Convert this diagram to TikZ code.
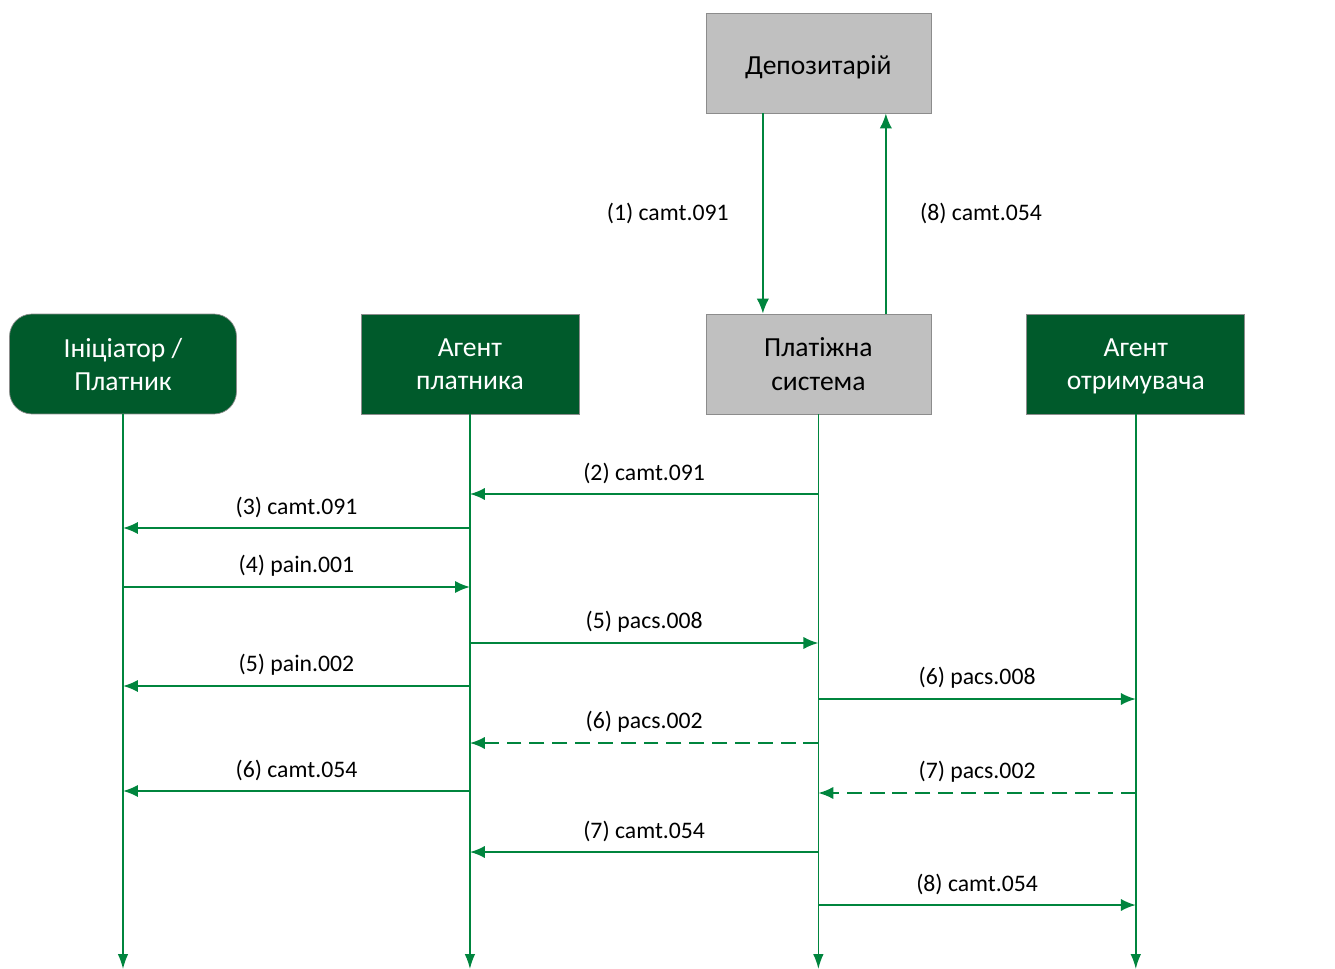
\documentclass[tikz,border=0pt]{standalone}
\usepackage{fontspec}
\setmainfont{Carlito}
\usetikzlibrary{arrows.meta,positioning}
\definecolor{linegreen}{RGB}{0,133,62}
\definecolor{boxgreen}{RGB}{0,90,43}
\definecolor{boxgrey}{RGB}{192,192,192}
\definecolor{bordergrey}{RGB}{140,140,140}
\tikzstyle{party} = [draw=bordergrey, fill=boxgreen, text=white, rectangle,
    minimum height=2cm, minimum width=4.36cm, align=center,
    font=\fontsize{15.7}{18.8}\selectfont,
    execute at begin node={\strut}, text depth=0pt]
\tikzstyle{system} = [party, fill=boxgrey, text=black, minimum width=4.5cm]
\tikzstyle{msg} = [draw=linegreen, line width=1.1pt, -{Latex[length=8.5pt,width=7pt]}]
\tikzstyle{reply} = [msg, dash pattern=on 8.5pt off 4.5pt]
\tikzstyle{life} = [draw=linegreen, line width=0.85pt, -{Latex[length=8.5pt,width=6pt]}]
\tikzstyle{lbl} = [font=\fontsize{13.5}{16}\selectfont, above=2pt]

\begin{document}
\begin{tikzpicture}[x=0.02cm, y=-0.02cm]
    \useasboundingbox (0,0) rectangle (1335,969);
    \node [party, rounded corners=0.45cm, minimum width=4.54cm] (initiator) at (123,364) {Ініціатор /\\ Платник};
    \node [party, right of=initiator, node distance=6.94cm] (payeragent) {Агент\\ платника};
    \node [system, right of=payeragent, node distance=6.97cm] (paysystem) {Платіжна\\ система};
    \node [party, right of=paysystem, node distance=6.35cm] (payeeagent) {Агент\\ отримувача};
    \node [system, above of=paysystem, node distance=6.02cm] (depo) {Депозитарій};
    \coordinate (bottom) at (0,969);
    % lifelines
    \foreach \who in {initiator, payeragent, paysystem, payeeagent}
        \draw [life] (\who.south) -- (\who.south |- bottom);
    % depositary exchange
    \draw [msg] ([xshift=-1.11cm]depo.south) -- node [left=0.55cm, font=\fontsize{13.5}{16}\selectfont] {(1) camt.091} ([xshift=-1.11cm]paysystem.north);
    \draw [msg] ([xshift=1.35cm]paysystem.north) -- node [right=0.55cm, font=\fontsize{13.5}{16}\selectfont] {(8) camt.054} ([xshift=1.35cm]depo.south);
    % messages
    \draw [msg] (paysystem.south |- 0,494) -- node [lbl] {(2) camt.091} (payeragent.south |- 0,494);
    \draw [msg] (payeragent.south |- 0,528) -- node [lbl] {(3) camt.091} (initiator.south |- 0,528);
    \draw [msg] (initiator.south |- 0,587) -- node [lbl] {(4) pain.001} (payeragent.south |- 0,587);
    \draw [msg] (payeragent.south |- 0,643) -- node [lbl] {(5) pacs.008} (paysystem.south |- 0,643);
    \draw [msg] (payeragent.south |- 0,686) -- node [lbl] {(5) pain.002} (initiator.south |- 0,686);
    \draw [msg] (paysystem.south |- 0,699) -- node [lbl] {(6) pacs.008} (payeeagent.south |- 0,699);
    \draw [reply] (paysystem.south |- 0,743) -- node [lbl] {(6) pacs.002} (payeragent.south |- 0,743);
    \draw [msg] (payeragent.south |- 0,791) -- node [lbl] {(6) camt.054} (initiator.south |- 0,791);
    \draw [reply] (payeeagent.south |- 0,793) -- node [lbl] {(7) pacs.002} (paysystem.south |- 0,793);
    \draw [msg] (paysystem.south |- 0,852) -- node [lbl] {(7) camt.054} (payeragent.south |- 0,852);
    \draw [msg] (paysystem.south |- 0,905) -- node [lbl] {(8) camt.054} (payeeagent.south |- 0,905);
\end{tikzpicture}
\end{document}
